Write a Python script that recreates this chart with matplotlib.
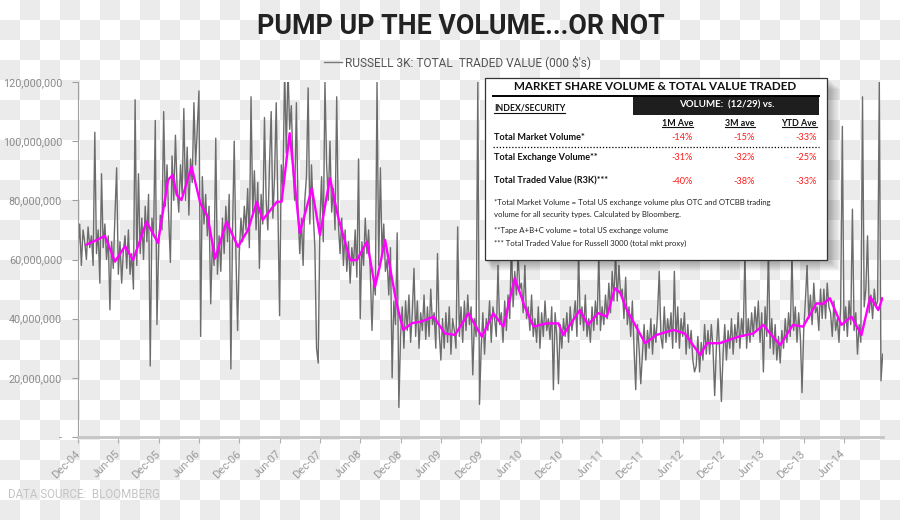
import numpy as np
import matplotlib
matplotlib.use("Agg")
import matplotlib.pyplot as plt
from matplotlib.patches import Rectangle
from matplotlib.lines import Line2D
from matplotlib.colors import ListedColormap
from matplotlib.ticker import FuncFormatter

W, H = 900, 520

tick_labels = ["Dec-04", "Jun-05", "Dec-05", "Jun-06", "Dec-06", "Jun-07", "Dec-07",
               "Jun-08", "Dec-08", "Jun-09", "Dec-09", "Jun-10", "Dec-10", "Jun-11",
               "Dec-11", "Jun-12", "Dec-12", "Jun-13", "Dec-13", "Jun-14"]

# russell 3k total traded value, millions of $000, roughly weekly from Dec-04
gray_2005 = [63, 72, 58, 70, 66, 60, 71, 64, 68, 58, 103, 62, 70, 52, 89, 64, 72, 60, 68, 43, 66, 57, 75, 91,
             55, 66, 52, 63, 68, 57, 70, 55, 62, 50, 114, 58, 89, 62, 74, 60, 78, 66, 82, 24, 74, 68, 107, 38]
gray_2006 = [64, 75, 70, 110, 78, 92, 74, 59, 95, 80, 102, 84, 76, 92, 82, 111, 80, 98, 75, 94, 86, 113, 92, 104,
             117, 34, 88, 72, 82, 68, 78, 45, 66, 58, 101, 55, 68, 56, 74, 62, 78, 66, 82, 23, 70, 100, 62, 36]
gray_2007 = [62, 74, 66, 78, 70, 84, 64, 115, 76, 90, 70, 86, 57, 82, 72, 108, 80, 70, 92, 110, 74, 88, 113, 78,
             41, 92, 84, 125, 96, 125, 104, 112, 90, 80, 113, 76, 62, 74, 58, 80, 88, 118, 72, 92, 76, 64, 30, 25]
gray_2008 = [72, 88, 66, 120, 92, 80, 100, 76, 84, 70, 115, 72, 62, 74, 58, 70, 56, 66, 52, 64, 58, 70, 54, 94,
             40, 66, 58, 74, 62, 70, 56, 36, 54, 48, 120, 58, 91, 62, 72, 56, 60, 48, 64, 20, 46, 38, 69, 10]
gray_2009 = [34, 44, 30, 46, 36, 48, 32, 42, 57, 34, 46, 30, 42, 36, 48, 33, 44, 34, 50, 38, 42, 30, 62, 36,
             26, 40, 30, 42, 32, 44, 28, 40, 36, 30, 71, 34, 44, 32, 46, 36, 48, 38, 44, 21, 40, 34, 120, 11]
gray_2010 = [30, 42, 28, 40, 36, 46, 32, 44, 40, 34, 58, 38, 42, 32, 46, 36, 48, 40, 66, 44, 56, 48, 62, 50,
             52, 42, 58, 40, 44, 36, 48, 34, 40, 32, 44, 30, 42, 34, 46, 36, 40, 33, 44, 16, 42, 34, 18, 38]
gray_2011 = [30, 40, 34, 42, 32, 44, 36, 40, 46, 34, 62, 38, 44, 36, 48, 34, 40, 32, 44, 36, 46, 38, 62, 36,
             44, 38, 48, 40, 52, 42, 56, 46, 62, 46, 58, 48, 50, 40, 54, 38, 44, 34, 46, 30, 16, 38, 30, 18]
gray_2012 = [28, 38, 26, 36, 30, 40, 28, 38, 32, 42, 56, 34, 30, 44, 32, 40, 34, 42, 30, 56, 32, 44, 30, 40,
             34, 42, 28, 38, 30, 36, 26, 22, 24, 34, 22, 32, 26, 38, 28, 36, 28, 38, 30, 14, 30, 40, 28, 12]
gray_2013 = [28, 38, 26, 36, 30, 40, 28, 38, 32, 42, 30, 40, 34, 62, 30, 40, 32, 42, 34, 44, 36, 46, 32, 42,
             22, 44, 34, 64, 30, 40, 28, 38, 26, 34, 25, 36, 30, 40, 32, 42, 34, 62, 36, 44, 32, 42, 34, 15]
gray_2014 = [36, 46, 58, 40, 48, 38, 52, 42, 44, 36, 50, 40, 50, 40, 52, 44, 42, 34, 46, 36, 40, 32, 44, 105,
             36, 44, 34, 46, 38, 77, 36, 42, 28, 38, 32, 115, 44, 50, 68, 42, 48, 40, 50, 44, 46, 120, 19, 28]

# smoothed series (months after Dec-04, millions)
mag_months = [1.2, 2.8, 4.0, 5.5, 7.0, 8.2, 10.2, 11.9, 13.4, 14.1,
              14.7, 15.4, 16.9, 18.2, 19.3, 20.4, 22.1, 23.8, 25.3, 26.6,
              27.5, 29.6, 30.3, 31.5, 33.0, 34.8, 36.0, 37.5, 38.7, 40.5,
              41.5, 43.0, 44.2, 44.9, 45.7, 47.4, 48.4, 49.7, 51.1, 52.9,
              54.6, 56.1, 58.1, 60.1, 61.8, 63.3, 65.0, 66.5, 67.8, 69.7,
              71.5, 72.2, 74.7, 75.9, 77.4, 78.7, 79.9, 80.7, 81.7, 83.6,
              84.4, 86.1, 88.6, 90.3, 92.6, 93.6, 95.5, 98.3, 100.5, 102.0,
              103.0, 104.5, 106.4, 107.9, 109.9, 110.9, 111.9, 113.6, 115.1, 116.6,
              117.9, 119.1, 119.7]
mag_values = [65, 66.6, 68, 59.3, 64.5, 59.8, 72.8, 65.6, 86.9, 88.6,
              81.8, 80.1, 91.4, 79, 74.5, 60.3, 72.8, 64.3, 70, 79.5,
              73.4, 79.5, 79.5, 102.7, 69, 84, 68.3, 87.5, 74.5, 59.8,
              59.8, 66, 50.8, 57.6, 66.6, 45.2, 36.2, 38.5, 39, 40.7,
              35, 34.5, 41.8, 33.9, 41.8, 37.3, 53.7, 44, 37.3, 38.4,
              38.4, 34.5, 42.9, 37.9, 41.9, 40.7, 50.3, 48.7, 42.9, 35,
              31.7, 34.5, 36.2, 35, 27.7, 31.7, 31.7, 33.9, 35, 37.9,
              35, 31.1, 37.9, 37.3, 45.2, 45, 46.9, 37.9, 40.7, 34.5,
              47.4, 42.9, 46.9]

table_title = "MARKET SHARE VOLUME & TOTAL VALUE TRADED"
col_headers = ["1M Ave", "3M ave", "YTD Ave"]
row_labels = ["Total Market Volume*", "Total Exchange Volume**", "Total Traded Value (R3K)***"]
row_values = [["-14%", "-15%", "-33%"],
              ["-31%", "-32%", "-25%"],
              ["-40%", "-38%", "-33%"]]
notes = ["*Total Market Volume = Total US exchange volume plus OTC and OTCBB trading",
         "volume for all security types. Calculated by Bloomberg.",
         "**Tape A+B+C volume = total US exchange volume",
         "*** Total Traded Value for Russell 3000 (total mkt proxy)"]

BOX = ["Lato", "Open Sans", "DejaVu Sans"]
plt.rcParams["font.family"] = ["Roboto", "DejaVu Sans"]


def fx(x):
    return x / W


def fy(y):
    return 1 - y / H


fig = plt.figure(figsize=(9, 5.2), dpi=100)

# checkerboard backdrop
bg = fig.add_axes([0, 0, 1, 1], zorder=-10)
rows, cols = np.indices((H // 20, W // 20 + 1))
bg.imshow((rows + cols) % 2, cmap=ListedColormap(["white", "#ebebeb"]),
          interpolation="nearest", extent=(0, (W // 20 + 1) * 20, H, 0), aspect="auto")
bg.set_xlim(0, W)
bg.set_ylim(H, 0)
bg.axis("off")

ax = fig.add_axes([fx(78), 1 - 437 / H, 805 / W, 355 / H])
ax.patch.set_alpha(0)

gray = np.array(gray_2005 + gray_2006 + gray_2007 + gray_2008 + gray_2009 +
                gray_2010 + gray_2011 + gray_2012 + gray_2013 + gray_2014) * 1e6
gray_x = np.arange(len(gray)) / 4
ax.plot(gray_x, gray, color="#6c6c6c", lw=1.0)
ax.plot(mag_months, np.array(mag_values) * 1e6, color="#ff00ff", lw=1.7)

ax.set_xlim(0, 119.8)
ax.set_ylim(0, 120e6)
ax.set_yticks(np.arange(0, 121, 20) * 1e6)
ax.yaxis.set_major_formatter(FuncFormatter(lambda v, _: "-" if v == 0 else f"{v:,.0f}"))
ax.set_xticks(np.arange(len(tick_labels)) * 6)
ax.set_xticklabels(tick_labels, rotation=45, ha="right", va="center", rotation_mode="anchor")

for s in ["top", "right"]:
    ax.spines[s].set_visible(False)
ax.spines["left"].set_color("#a0a0a0")
ax.spines["bottom"].set_color("#c4c4c4")
ax.spines["bottom"].set_linewidth(2)
ax.tick_params(axis="y", length=4, color="#a0a0a0", labelcolor="#8a8a8a", labelsize=7.8, pad=7.5)
ax.tick_params(axis="x", length=4, color="#b0b0b0", labelcolor="#9a9a9a", labelsize=8, pad=7)

# title and legend
fig.text(fx(461), fy(26), "PUMP UP THE VOLUME...OR NOT", ha="center", va="center",
         fontsize=19.3, weight="bold", color="#222222")
fig.add_artist(Line2D([fx(324), fx(342)], [fy(62), fy(62)], color="#777777", lw=1))
fig.text(fx(345), fy(62), "RUSSELL 3K: TOTAL  TRADED VALUE (000 $'s)", ha="left", va="center",
         fontsize=8.6, color="#555555")
fig.text(fx(8), fy(494), "DATA SOURCE:  BLOOMBERG", ha="left", va="center",
         fontsize=8.3, color="#c4c4c4")

# table box with soft shadow
bx0, by0, bx1, by1 = 485, 78, 827, 260
for k in range(1, 12):
    fig.add_artist(Rectangle((fx(bx0 + k * 0.6), fy(by1 + k)), (bx1 - bx0 + k * 0.6) / W, (by1 - by0) / H,
                             transform=fig.transFigure, color="black", alpha=0.03, lw=0, zorder=4))
fig.add_artist(Rectangle((fx(bx0), fy(by1)), (bx1 - bx0) / W, (by1 - by0) / H,
                         transform=fig.transFigure, facecolor="white", edgecolor="#333333",
                         lw=0.9, zorder=5))
fig.add_artist(Rectangle((fx(633), fy(115)), (819 - 633) / W, (115 - 96) / H,
                         transform=fig.transFigure, facecolor="#1e1e1e", lw=0, zorder=6))
fig.add_artist(Line2D([fx(493), fx(819)], [fy(96), fy(96)], color="black", lw=1.4, zorder=6))
fig.add_artist(Line2D([fx(493), fx(819)], [fy(147), fy(147)], color="black", lw=0.9,
                      ls=(0, (1, 1.5)), zorder=6))

txt = dict(family=BOX, zorder=7)
fig.text(fx(655), fy(87), table_title, ha="center", va="center", fontsize=8.4,
         weight="bold", color="#111111", **txt)
fig.text(fx(727), fy(105), "VOLUME:  (12/29) vs.", ha="center", va="center", fontsize=7,
         weight="bold", color="white", **txt)
underlined = [fig.text(fx(494), fy(108), "INDEX/SECURITY", ha="left", va="center", fontsize=6.2,
                       weight="bold", color="#111111", **txt)]
col_right = [693, 755, 817]
for x, h in zip(col_right, col_headers):
    underlined.append(fig.text(fx(x), fy(123), h, ha="right", va="center", fontsize=6.4,
                               weight="bold", color="#111111", **txt))
for y, lab, vals in zip([138, 157, 181], row_labels, row_values):
    fig.text(fx(494), fy(y), lab, ha="left", va="center", fontsize=6.6, weight="bold",
             color="#111111", **txt)
    for x, v in zip(col_right, vals):
        fig.text(fx(x), fy(y), v, ha="right", va="center", fontsize=6.6, color="#ff1a1a", **txt)
for y, n in zip([203, 215, 230, 243], notes):
    fig.text(fx(494), fy(y), n, ha="left", va="center", fontsize=5.6, color="#222222", **txt)

fig.canvas.draw()
inv = fig.transFigure.inverted()
for t in underlined:
    bb = t.get_window_extent()
    (a0, b0), (a1, _) = inv.transform([(bb.x0, bb.y0), (bb.x1, bb.y1)])
    fig.add_artist(Line2D([a0, a1], [b0, b0], color="#111111", lw=0.8, zorder=7))

fig.savefig("out.png", dpi=100)
